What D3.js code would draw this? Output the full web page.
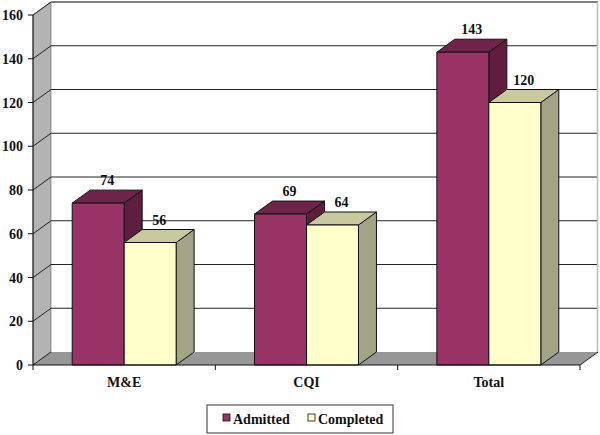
<!DOCTYPE html>
<html><head><meta charset="utf-8">
<script src="https://cdn.jsdelivr.net/npm/d3@7"></script>
<style>body{margin:0;background:#fff}svg{display:block}</style>
</head><body>
<svg id="c" width="600" height="435"></svg>
<script>
const categories = ["M&E", "CQI", "Total"];
const seriesNames = ["Admitted", "Completed"];
const admitted = [74, 69, 143];
const completed = [56, 64, 120];
const yTicks = [0, 20, 40, 60, 80, 100, 120, 140, 160];

(function () {
const svg = d3.select("#c");
const dx = 18, dy = -13;
const pLeft = 33, pRight = 580, pBottom = 365, pTop = 15;
const x = d3.scaleBand().domain(categories).range([pLeft, pRight]);
const y = d3.scaleLinear().domain([0, 160]).range([pBottom, pTop]);
const barW = x.bandwidth() * 0.285;
const colors = {
  Admitted: {front: "#993366", top: "#6e2448", side: "#5f1e3e"},
  Completed: {front: "#ffffcc", top: "#c9c9a0", side: "#a3a386"}
};
const pts = a => a.map(p => p.join(",")).join(" ");
const txt = (sel) => sel.style("font-family", "'Liberation Serif'").style("font-weight", "bold").style("font-size", "14px").attr("fill", "#111");

svg.append("rect").attr("x", pLeft + dx).attr("y", y(160) + dy)
  .attr("width", pRight - pLeft).attr("height", y(0) - y(160))
  .attr("fill", "#fff");
svg.append("polygon").attr("points", pts([[pLeft, y(0)], [pLeft + dx, y(0) + dy], [pLeft + dx, y(160) + dy], [pLeft, y(160)]]))
  .attr("fill", "#b3b3b3").attr("stroke", "#555").attr("stroke-width", 0.6);
svg.append("polygon").attr("points", pts([[pLeft, y(0)], [pRight, y(0)], [pRight + dx, y(0) + dy], [pLeft + dx, y(0) + dy]]))
  .attr("fill", "#979797");
yTicks.filter(v => v > 0).forEach(v => {
  svg.append("line").attr("x1", pLeft).attr("y1", y(v)).attr("x2", pLeft + dx).attr("y2", y(v) + dy)
    .attr("stroke", "#222").attr("stroke-width", 1);
  svg.append("line").attr("x1", pLeft + dx).attr("y1", y(v) + dy).attr("x2", pRight + dx).attr("y2", y(v) + dy)
    .attr("stroke", v === 160 ? "#555" : "#222").attr("stroke-width", v === 160 ? 1.5 : 1);
});
svg.append("line").attr("x1", pRight + dx - 0.5).attr("y1", y(160) + dy).attr("x2", pRight + dx - 0.5).attr("y2", y(0) + dy)
  .attr("stroke", "#bbb").attr("stroke-width", 1.5);
svg.append("line").attr("x1", pLeft).attr("y1", y(0)).attr("x2", pLeft + dx).attr("y2", y(0) + dy).attr("stroke", "#222");
svg.append("line").attr("x1", pRight).attr("y1", y(0)).attr("x2", pRight + dx).attr("y2", y(0) + dy).attr("stroke", "#222");

const seriesData = {Admitted: admitted, Completed: completed};
categories.forEach((cat, i) => {
  const x0 = x(cat) + (x.bandwidth() - 2 * barW) / 2;
  seriesNames.forEach((s, j) => {
    const v = seriesData[s][i];
    const bx = x0 + j * barW, by = y(v), bb = y(0);
    const c = colors[s];
    const g = svg.append("g").attr("stroke", "#111").attr("stroke-width", 1).attr("stroke-linejoin", "round");
    g.append("polygon").attr("points", pts([[bx + barW, by], [bx + barW + dx, by + dy], [bx + barW + dx, bb + dy], [bx + barW, bb]])).attr("fill", c.side);
    g.append("polygon").attr("points", pts([[bx, by], [bx + dx, by + dy], [bx + barW + dx, by + dy], [bx + barW, by]])).attr("fill", c.top);
    g.append("rect").attr("x", bx).attr("y", by).attr("width", barW).attr("height", bb - by).attr("fill", c.front);
    txt(svg.append("text")).attr("x", bx + barW / 2 + dx / 2).attr("y", by + dy - 5)
      .attr("text-anchor", "middle").text(v);
  });
});

svg.append("line").attr("x1", pLeft).attr("y1", y(160)).attr("x2", pLeft).attr("y2", y(0)).attr("stroke", "#111");
yTicks.forEach(v => {
  svg.append("line").attr("x1", pLeft - 5).attr("y1", y(v)).attr("x2", pLeft).attr("y2", y(v)).attr("stroke", "#111");
  txt(svg.append("text")).attr("x", 23).attr("y", y(v) + 5).attr("text-anchor", "end").text(v);
});
svg.append("line").attr("x1", pLeft).attr("y1", y(0)).attr("x2", pRight).attr("y2", y(0)).attr("stroke", "#111");
[pLeft, ...categories.slice(1).map(c => x(c)), pRight].forEach(px => {
  svg.append("line").attr("x1", px).attr("y1", y(0)).attr("x2", px).attr("y2", y(0) + 5).attr("stroke", "#111");
});
categories.forEach(cat => {
  txt(svg.append("text")).attr("x", x(cat) + x.bandwidth() / 2).attr("y", 387).attr("text-anchor", "middle").text(cat);
});

const lg = svg.append("g");
lg.append("rect").attr("x", 207).attr("y", 405).attr("width", 186).attr("height", 28)
  .attr("fill", "#fff").attr("stroke", "#333").attr("stroke-width", 1);
const legendX = [223, 308];
seriesNames.forEach((s, j) => {
  lg.append("rect").attr("x", legendX[j]).attr("y", 414).attr("width", 7).attr("height", 7)
    .attr("fill", colors[s].front).attr("stroke", "#111").attr("stroke-width", 0.8);
  txt(lg.append("text")).attr("x", legendX[j] + 10).attr("y", 424).text(s);
});
})();
</script>
</body></html>
